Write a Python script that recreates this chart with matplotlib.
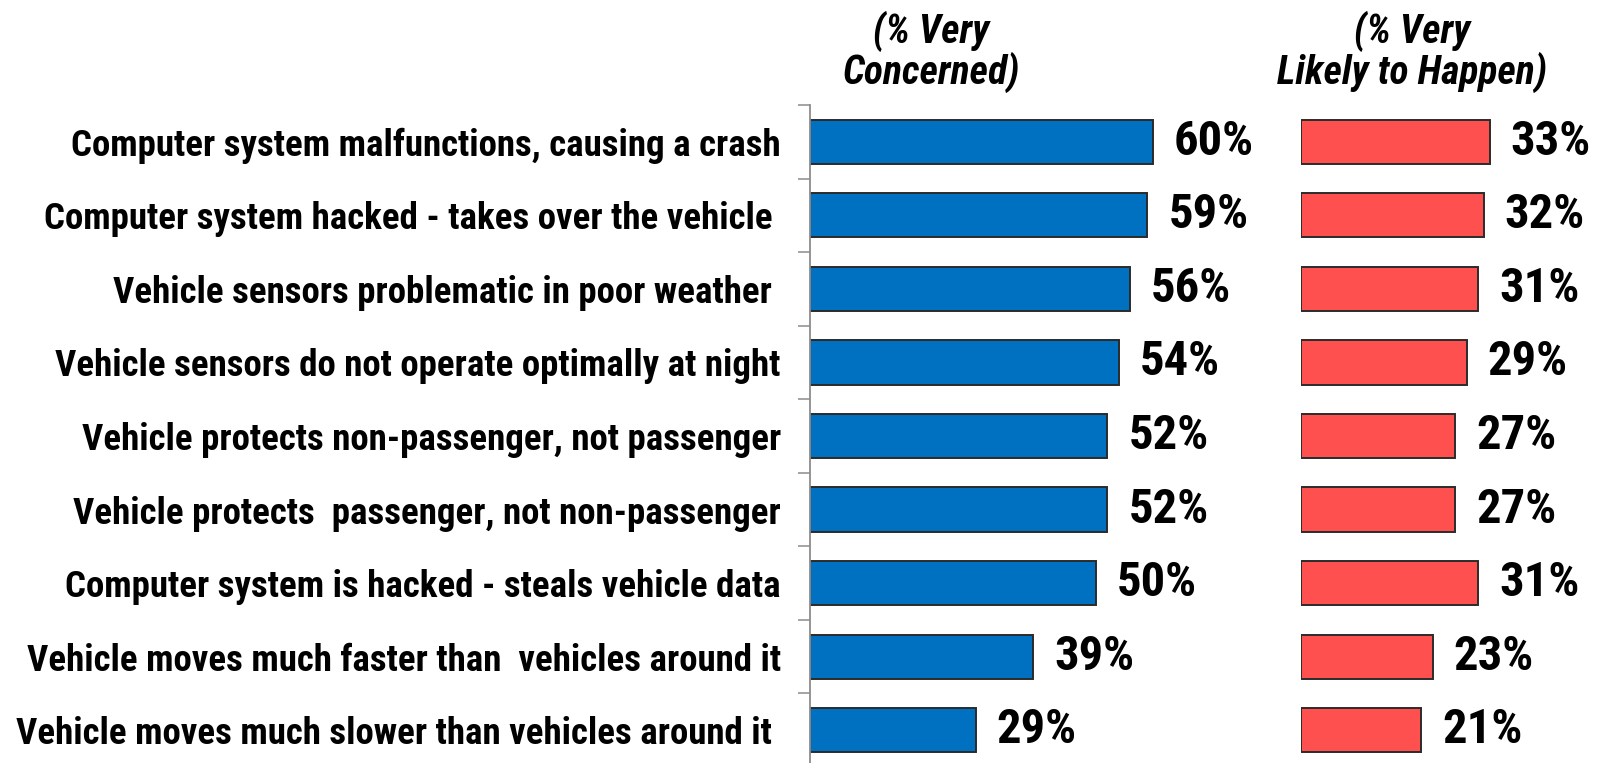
import matplotlib
matplotlib.use("Agg")
import matplotlib.pyplot as plt
from matplotlib import font_manager as fm
import numpy as np

# narrow bold sans, first one that is installed with a bold face
bold_names = {f.name for f in fm.fontManager.ttflist if f.weight in (700, "bold")}
PREF = ["Liberation Sans Narrow", "Arial Narrow", "Roboto Condensed",
        "PT Sans Narrow", "Fira Sans Condensed", "Liberation Sans"]
FAM = next(n for n in PREF if n in bold_names)
plt.rcParams["font.family"] = [FAM, "DejaVu Sans"]

BLUE = "#0070c0"; RED = "#ff5050"; EDGE = "#2b2b2b"; AXIS = "#8c8c8c"

labels = ["Computer system malfunctions, causing a crash",
          "Computer system hacked - takes over the vehicle ",
          "Vehicle sensors problematic in poor weather ",
          "Vehicle sensors do not operate optimally at night",
          "Vehicle protects non-passenger, not passenger",
          "Vehicle protects  passenger, not non-passenger",
          "Computer system is hacked - steals vehicle data",
          "Vehicle moves much faster than  vehicles around it",
          "Vehicle moves much slower than vehicles around it "]
concerned = [60, 59, 56, 54, 52, 52, 50, 39, 29]
likely = [33, 32, 31, 29, 27, 27, 31, 23, 21]
head_left = "(% Very\nConcerned)"
head_right = "(% Very\nLikely to Happen)"

W, H = 1600, 763
fig = plt.figure(figsize=(W/100, H/100), dpi=100)
fig.patch.set_facecolor("white")

px = 5.72          # pixels per percent
top, bot = 105, 767
ax1 = fig.add_axes([810/W, 1-bot/H, 80*px/W, (bot-top)/H])
ax2 = fig.add_axes([1301/W, 1-bot/H, 52*px/W, (bot-top)/H])

y = np.arange(len(labels))
for ax, vals, col, xmax in ((ax1, concerned, BLUE, 80), (ax2, likely, RED, 52)):
    bars = ax.barh(y, vals, height=0.6, color=col, edgecolor=EDGE, linewidth=1.4)
    ax.bar_label(bars, labels=[f"{v}%" for v in vals], padding=15,
                 fontsize=35, fontweight="bold", color="black")
    ax.set_xlim(0, xmax)
    ax.set_ylim(len(labels)-0.5, -0.5)
    ax.set_xticks([])
    for s in ("top", "right", "bottom"):
        ax.spines[s].set_visible(False)
    ax.patch.set_alpha(0)

ax1.spines["left"].set_color(AXIS); ax1.spines["left"].set_linewidth(1.3)
ax1.set_yticks(y)
ax1.set_yticklabels(labels, fontsize=26.6, fontweight="bold")
ax1.tick_params(axis="y", which="major", length=0, pad=21)
ax1.set_yticks(np.arange(len(labels)+1)-0.5, minor=True)
ax1.tick_params(axis="y", which="minor", length=8.5, width=1.1, color=AXIS, direction="out")

ax2.spines["left"].set_visible(False)
ax2.set_yticks([])

for xc, txt in ((931, head_left), (1412, head_right)):
    fig.text(xc/W, 1-52/H, txt, ha="center", va="center", fontsize=28.5,
             fontweight="bold", fontstyle="italic", linespacing=1.0)

fig.savefig("out.png", dpi=100)
